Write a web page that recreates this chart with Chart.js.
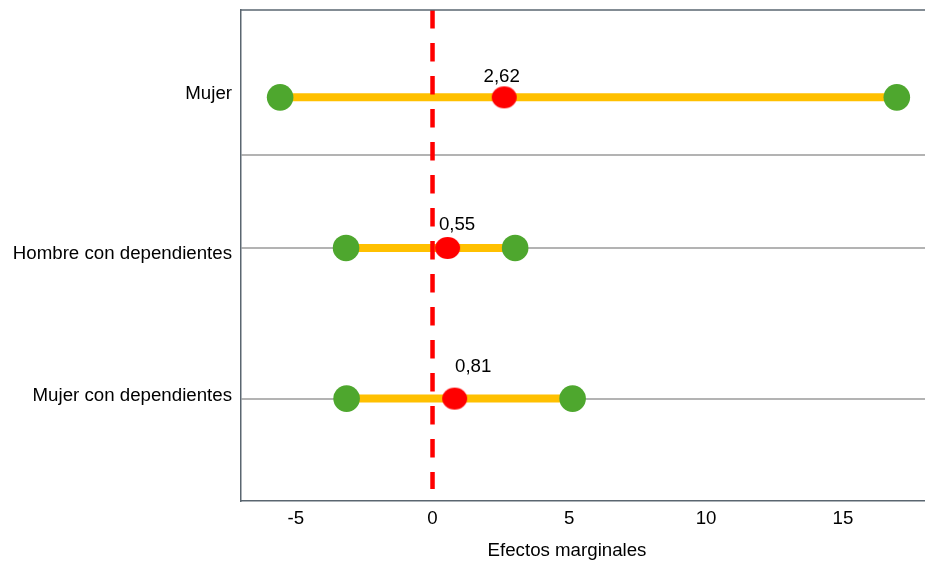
<!DOCTYPE html>
<html>
<head>
<meta charset="utf-8">
<script src="https://cdn.jsdelivr.net/npm/chart.js@4/dist/chart.umd.min.js"></script>
<style>
  html, body { margin: 0; padding: 0; background: #ffffff; }
  #wrap { width: 925px; height: 561px; }
</style>
</head>
<body>
<div id="wrap"><canvas id="c" width="925" height="561"></canvas></div>
<script>
// Categories, top to bottom, and their row positions on the vertical scale
const categories = ['Mujer', 'Hombre con dependientes', 'Mujer con dependientes'];
const rowPos = [3, 2, 1];
// Confidence interval bounds and point estimates (marginal effects)
const lowerBound = [-5.57, -3.16, -3.14];
const upperBound = [16.97, 3.02, 5.12];
const estimate = [2.62, 0.55, 0.81];
// Horizontal tick values
const xTicks = [-5, 0, 5, 10, 15];
// Extra separator line on the vertical scale
const separatorPos = 2.62;
const axisTitle = 'Efectos marginales';

const FONT = { family: '"Liberation Sans", Arial, sans-serif', size: 18.7 };
const FONT_CSS = `${FONT.size}px ${FONT.family}`;
const X_MIN = -7, X_MAX = 18, Y_MIN = 0.32, Y_MAX = 3.58;

// Red estimate marker: slightly wider than tall
function ellipseMarker(rx, ry, color) {
  const cv = document.createElement('canvas');
  cv.width = Math.ceil(rx * 2) + 2;
  cv.height = Math.ceil(ry * 2) + 2;
  const g = cv.getContext('2d');
  g.fillStyle = color;
  g.beginPath();
  g.ellipse(cv.width / 2, cv.height / 2, rx, ry, 0, 0, Math.PI * 2);
  g.fill();
  return cv;
}
const redMarker = ellipseMarker(12.5, 11, '#ff0000');

// Label placement around each estimate marker (pixels)
const labelShift = [[-2.5, -21], [9.5, -23], [18.5, -32]];
// Vertical nudge of each category name relative to its row (pixels)
const categoryShift = [-3.6, 5.4, -2.3];

const intervalSets = categories.map((c, i) => ({
  type: 'line',
  label: c,
  data: [{ x: lowerBound[i], y: rowPos[i] }, { x: upperBound[i], y: rowPos[i] }],
  borderColor: '#ffc000',
  borderWidth: 8,
  borderCapStyle: 'butt',
  pointRadius: 0,
  order: 3
}));

const annotations = {
  id: 'annotations',
  afterDatasetsDraw(chart) {
    const meta = chart.getDatasetMeta(0);
    const ctx = chart.ctx;
    ctx.save();
    ctx.font = FONT_CSS;
    ctx.fillStyle = '#000000';
    ctx.textAlign = 'center';
    ctx.textBaseline = 'middle';
    meta.data.forEach((pt, i) => {
      const txt = estimate[i].toFixed(2).replace('.', ',');
      ctx.fillText(txt, pt.x + labelShift[i][0], pt.y + labelShift[i][1]);
    });
    ctx.restore();
  },
  afterDraw(chart) {
    const { ctx, chartArea } = chart;
    const yScale = chart.scales.y;
    ctx.save();
    // top frame line
    ctx.strokeStyle = '#5a6670';
    ctx.lineWidth = 1.5;
    ctx.beginPath();
    ctx.moveTo(chartArea.left, chartArea.top);
    ctx.lineTo(chartArea.right, chartArea.top);
    ctx.stroke();
    ctx.font = FONT_CSS;
    ctx.fillStyle = '#000000';
    ctx.textBaseline = 'middle';
    // category names
    ctx.textAlign = 'right';
    categories.forEach((c, i) => {
      ctx.fillText(c, chartArea.left - 9, yScale.getPixelForValue(rowPos[i]) + categoryShift[i]);
    });
    // horizontal axis title, set slightly left of the plot centre
    ctx.textAlign = 'center';
    ctx.fillText(axisTitle, (chartArea.left + chartArea.right) / 2 - 16, chartArea.bottom + 49.5);
    ctx.restore();
  }
};

new Chart(document.getElementById('c'), {
  type: 'scatter',
  data: {
    datasets: [
      {
        label: 'Estimación',
        data: estimate.map((v, i) => ({ x: v, y: rowPos[i] })),
        pointStyle: redMarker,
        pointRadius: 12,
        order: 0
      },
      {
        label: 'Límites',
        data: lowerBound.map((v, i) => ({ x: v, y: rowPos[i] }))
          .concat(upperBound.map((v, i) => ({ x: v, y: rowPos[i] }))),
        pointStyle: 'circle',
        pointRadius: 13.3,
        backgroundColor: '#4ea72e',
        borderWidth: 0,
        order: 1
      },
      {
        type: 'line',
        label: 'Cero',
        data: [{ x: 0, y: Y_MAX }, { x: 0, y: 0.4 }],
        borderColor: '#ff0000',
        borderWidth: 4.5,
        borderDash: [18.5, 14.5],
        borderCapStyle: 'butt',
        pointRadius: 0,
        order: 2
      },
      ...intervalSets
    ]
  },
  options: {
    responsive: false,
    animation: false,
    layout: { autoPadding: false, padding: 0 },
    plugins: { legend: { display: false }, tooltip: { enabled: false } },
    scales: {
      x: {
        type: 'linear',
        min: X_MIN,
        max: X_MAX,
        afterBuildTicks(scale) { scale.ticks = xTicks.map(v => ({ value: v })); },
        afterFit(scale) { scale.height = 60; scale.paddingLeft = 0; scale.paddingRight = 0; },
        grid: { color: 'transparent', drawTicks: false },
        border: { display: true, color: '#5a6670', width: 1.5 },
        ticks: {
          padding: 7,
          color: '#000000',
          font: FONT,
          maxRotation: 0,
          callback: v => String(v)
        }
      },
      y: {
        type: 'linear',
        min: Y_MIN,
        max: Y_MAX,
        afterBuildTicks(scale) {
          scale.ticks = [1, 2, separatorPos].map(v => ({ value: v }));
        },
        afterFit(scale) { scale.width = 241; scale.paddingTop = 10; scale.paddingBottom = 0; },
        grid: { drawTicks: false, lineWidth: 2, color: '#b3b3b3' },
        border: { display: true, color: '#5a6670', width: 1.5 },
        ticks: { display: false }
      }
    }
  },
  plugins: [annotations]
});
</script>
</body>
</html>
